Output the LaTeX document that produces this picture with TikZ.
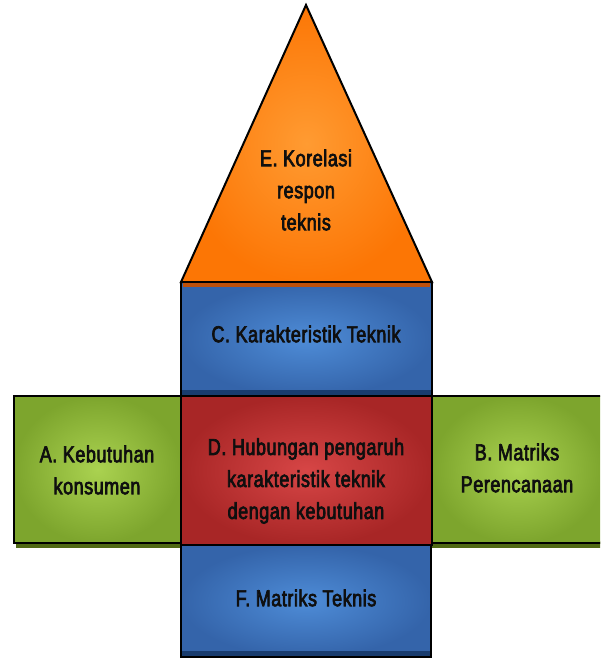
\documentclass[tikz,border=0pt]{standalone}
\usepackage{fontspec}
\setmainfont{Liberation Sans}[FakeStretch=0.78,FakeBold=3,LetterSpace=2.5]
\definecolor{orbase}{RGB}{252,118,5}
\definecolor{orlight}{RGB}{255,155,50}
\definecolor{ordark}{RGB}{190,80,10}
\definecolor{blbase}{RGB}{52,100,170}
\definecolor{bllight}{RGB}{78,140,215}
\definecolor{bldark}{RGB}{25,60,110}
\definecolor{rdbase}{RGB}{168,38,38}
\definecolor{rdlight}{RGB}{215,70,70}
\definecolor{grbase}{RGB}{125,165,45}
\definecolor{grlight}{RGB}{170,210,80}
\definecolor{grdark}{RGB}{80,105,20}
\definecolor{txt}{RGB}{15,15,15}
\begin{document}
\begin{tikzpicture}[x=1pt,y=-1pt,
  part/.style={draw=black,line width=2pt,line join=miter},
  orangepart/.style={part,inner color=orlight,outer color=orbase},
  bluepart/.style={part,inner color=bllight,outer color=blbase},
  redpart/.style={part,inner color=rdlight,outer color=rdbase},
  greenpart/.style={part,inner color=grlight,outer color=grbase},
  label/.style={align=center,text=txt,font=\fontsize{23}{32}\selectfont,inner sep=0pt}]
\useasboundingbox (0,0) rectangle (600,661);
\clip (0,0) rectangle (600,661);
% shadows of green boxes
\fill[grdark] (16,541) rectangle (181,548);
\fill[grdark] (432,541) rectangle (604,548);
% green side boxes
\path[greenpart] (14,396) rectangle (181,543);
\path[greenpart] (432,396) rectangle (604,543);
% blue and red boxes
\path[bluepart] (181,282) rectangle (432,396);
\fill[bldark] (182,390) rectangle (431,395);
\path[redpart] (181,396) rectangle (432,545);
\path[bluepart] (181,545) rectangle (431,657);
\fill[bldark] (182,651) rectangle (430,656);
\draw[black,line width=2pt] (181,545) rectangle (431,657);
% triangle
\path[orangepart] (306,5) -- (432,282) -- (181,282) -- cycle;
\fill[ordark] (183,282) rectangle (430,287);
\draw[black,line width=2pt] (181,282) -- (432,282);
% labels
\node[label] (E) at (306,190) {E. Korelasi\\respon\\teknis};
\node[label] (C) at (306,334) {C. Karakteristik Teknik};
\node[label] (A) at (97,470) {A. Kebutuhan\\konsumen};
\node[label] (D) at (306,481) {D. Hubungan pengaruh\\karakteristik teknik\\dengan kebutuhan};
\node[label] (B) at (517,468) {B. Matriks\\Perencanaan};
\node[label] (F) at (306,598) {F. Matriks Teknis};
\end{tikzpicture}
\end{document}
